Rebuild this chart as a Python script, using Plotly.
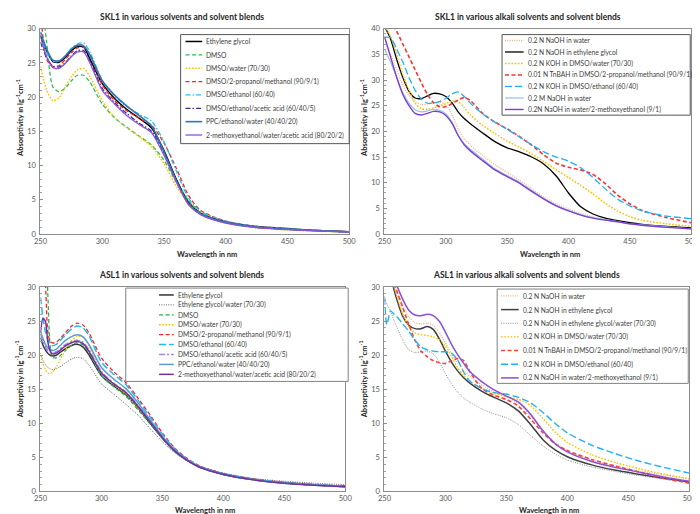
import plotly.graph_objects as go

# ---------------- DATA ----------------
# Panel 1: SKL1 in various solvents and solvent blends
W1 = [250, 255, 260, 265, 270, 275, 280, 285, 290, 300, 310, 320, 330, 340, 350, 360, 370, 380, 400, 425, 450, 475, 500]
skl1_eg = [29.0, 26.8, 25.2, 25.1, 25.8, 26.8, 27.4, 27.3, 25.6, 22.0, 19.8, 18.2, 16.9, 15.5, 12.2, 8.0, 4.6, 3.0, 1.8, 1.1, 0.8, 0.5, 0.35]
skl1_dmso = [36.0, 28.0, 21.5, 20.8, 21.3, 22.4, 23.2, 23.2, 22.2, 19.0, 17.0, 15.6, 14.3, 13.0, 10.8, 7.6, 4.9, 3.1, 1.7, 1.0, 0.7, 0.45, 0.3]
skl1_dmso_water = [24.5, 21.0, 19.5, 19.9, 21.5, 23.0, 24.0, 24.2, 23.0, 19.5, 17.0, 15.5, 14.2, 12.8, 10.3, 7.0, 4.5, 2.9, 1.6, 0.9, 0.6, 0.4, 0.3]
skl1_dmso_prop_meth = [33.0, 25.5, 24.5, 24.6, 25.5, 26.5, 27.2, 27.3, 26.2, 21.8, 19.5, 18.0, 16.9, 15.9, 13.3, 9.6, 5.6, 3.4, 1.9, 1.1, 0.75, 0.5, 0.35]
skl1_dmso_eth = [29.5, 26.5, 25.3, 25.2, 26.0, 27.1, 27.8, 27.9, 26.6, 22.5, 20.2, 18.6, 17.5, 16.5, 13.5, 9.2, 5.2, 3.3, 1.9, 1.1, 0.8, 0.5, 0.35]
skl1_dmso_eth_ac = [28.0, 25.8, 24.5, 24.4, 25.0, 26.0, 26.8, 26.8, 25.3, 21.3, 19.2, 17.6, 16.2, 15.0, 11.8, 7.8, 4.5, 2.9, 1.7, 1.0, 0.7, 0.5, 0.3]
skl1_ppc = [29.5, 27.0, 25.4, 25.3, 26.0, 27.0, 27.6, 27.5, 26.2, 22.4, 20.3, 18.7, 17.3, 15.8, 12.0, 7.8, 4.3, 2.9, 1.7, 1.0, 0.7, 0.5, 0.3]
skl1_meoet = [28.8, 25.9, 24.3, 24.2, 24.9, 25.9, 26.6, 26.6, 25.0, 21.0, 19.0, 17.3, 16.0, 14.8, 11.5, 7.6, 4.3, 2.8, 1.6, 0.95, 0.65, 0.45, 0.3]
names1 = ["Ethylene glycol", "DMSO", "DMSO/water (70/30)", "DMSO/2-propanol/methanol (90/9/1)",
          "DMSO/ethanol (60/40)", "DMSO/ethanol/acetic acid (60/40/5)", "PPC/ethanol/water (40/40/20)",
          "2-methoxyethanol/water/acetic acid (80/20/2)"]

# Panel 2: SKL1 in various alkali solvents and solvent blends
W2 = [250, 255, 260, 265, 270, 275, 280, 285, 290, 295, 300, 305, 310, 315, 320, 330, 340, 350, 360, 370, 380, 390, 400, 410, 420, 430, 440, 450, 460, 480, 500]
skl1a_naoh_w = [38.0, 35.0, 32.0, 29.0, 27.0, 25.8, 25.2, 25.3, 25.6, 25.7, 25.2, 23.3, 20.5, 18.6, 17.3, 15.3, 13.5, 12.0, 10.5, 8.8, 7.2, 5.9, 4.9, 4.0, 3.3, 2.8, 2.4, 2.1, 1.8, 1.4, 1.1]
skl1a_naoh_eg = [40.5, 38.0, 34.0, 30.5, 27.8, 26.5, 26.4, 26.9, 27.4, 27.3, 26.8, 25.6, 23.8, 22.5, 21.5, 19.7, 18.0, 16.8, 16.0, 15.0, 13.6, 11.3, 8.0, 5.3, 3.9, 3.1, 2.6, 2.2, 1.9, 1.5, 1.2]
skl1a_koh_dw = [40.5, 38.5, 35.0, 31.0, 28.0, 25.5, 24.4, 24.3, 24.6, 25.0, 25.4, 25.9, 25.8, 24.6, 23.2, 21.2, 19.6, 18.1, 16.9, 15.6, 14.1, 12.5, 11.0, 9.5, 7.8, 6.0, 4.5, 3.4, 2.7, 2.0, 1.5]
skl1a_tnbah = [44.0, 41.5, 39.5, 37.0, 34.5, 32.0, 29.5, 27.2, 25.6, 24.8, 24.8, 25.4, 26.1, 26.6, 26.0, 23.5, 21.8, 20.5, 19.0, 17.3, 15.4, 13.8, 13.0, 12.5, 11.6, 9.8, 7.6, 5.9, 4.6, 3.2, 2.2]
skl1a_koh_de = [38.3, 38.3, 36.0, 33.5, 30.5, 28.0, 26.3, 25.5, 25.5, 25.8, 26.4, 27.3, 27.7, 26.8, 25.5, 23.4, 21.8, 20.4, 18.9, 17.4, 16.0, 15.0, 14.2, 12.9, 11.0, 8.8, 6.8, 5.5, 4.5, 3.5, 3.0]
skl1a_naoh_m = [36.0, 33.5, 30.5, 27.5, 25.5, 24.2, 23.8, 24.0, 24.3, 24.1, 23.4, 21.8, 19.4, 17.6, 16.5, 14.6, 12.7, 11.4, 10.1, 8.5, 6.9, 5.6, 4.6, 3.8, 3.2, 2.8, 2.4, 2.0, 1.8, 1.4, 1.0]
skl1a_naoh_wme = [38.5, 34.5, 30.5, 27.2, 25.0, 23.5, 23.2, 23.5, 23.9, 23.8, 23.1, 21.6, 19.2, 17.4, 16.2, 14.3, 12.5, 11.2, 9.9, 8.3, 6.8, 5.5, 4.5, 3.7, 3.1, 2.7, 2.4, 2.0, 1.7, 1.3, 1.0]
names2 = ["0.2 N NaOH in water", "0.2 N NaOH in ethylene glycol", "0.2 N KOH in DMSO/water (70/30)",
          "0.01 N TnBAH in DMSO/2-propanol/methanol (90/9/1)", "0.2 N KOH in DMSO/ethanol (60/40)",
          "0.2 M NaOH in water", "0.2N NaOH in water/2-methoxyethanol (9/1)"]

# Panel 3: ASL1 in various solvents and solvent blends
W3 = [250, 252, 254, 256, 258, 260, 263, 266, 270, 275, 280, 285, 290, 300, 310, 320, 330, 340, 350, 360, 370, 380, 400, 425, 450, 475, 500]
asl1_eg = [22.6, 21.5, 20.8, 20.3, 20.0, 19.9, 20.0, 20.4, 20.9, 21.4, 21.6, 21.2, 20.0, 17.0, 15.5, 14.2, 12.3, 10.0, 7.8, 5.9, 4.6, 3.7, 2.6, 1.8, 1.3, 1.0, 0.8]
asl1_eg_w = [20.3, 19.3, 18.6, 18.2, 18.0, 17.9, 18.0, 18.3, 18.8, 19.4, 19.7, 19.5, 18.5, 15.8, 14.3, 12.8, 11.2, 9.2, 7.3, 5.7, 4.5, 3.7, 2.7, 1.9, 1.5, 1.2, 1.0]
asl1_dmso = [36.0, 36.0, 36.0, 29.0, 21.2, 19.7, 19.6, 19.9, 20.6, 21.4, 21.8, 21.5, 20.3, 17.0, 15.4, 14.0, 12.0, 9.9, 7.8, 5.9, 4.6, 3.6, 2.5, 1.7, 1.2, 0.9, 0.7]
asl1_dmso_w = [20.0, 18.8, 17.9, 17.4, 17.3, 17.5, 18.3, 19.3, 20.6, 22.0, 22.8, 22.6, 21.3, 17.5, 15.7, 14.3, 12.3, 10.2, 7.9, 6.0, 4.6, 3.6, 2.5, 1.7, 1.2, 0.9, 0.7]
asl1_dmso_pm = [38.0, 36.0, 31.0, 23.5, 22.0, 21.8, 21.9, 22.4, 23.2, 24.2, 24.7, 24.4, 23.2, 19.6, 17.6, 16.0, 13.7, 11.2, 8.6, 6.4, 4.9, 3.8, 2.6, 1.8, 1.3, 1.0, 0.75]
asl1_dmso_e = [28.5, 25.5, 23.5, 22.3, 21.6, 21.4, 21.6, 22.1, 22.9, 23.8, 24.3, 24.0, 22.8, 19.0, 17.2, 15.7, 13.4, 10.9, 8.4, 6.3, 4.8, 3.7, 2.6, 1.8, 1.3, 1.0, 0.75]
asl1_dmso_ea = [23.0, 22.0, 21.2, 20.7, 20.4, 20.3, 20.5, 20.9, 21.5, 22.0, 22.2, 21.9, 20.7, 17.6, 15.9, 14.6, 12.6, 10.3, 8.0, 6.0, 4.6, 3.6, 2.5, 1.7, 1.25, 0.95, 0.7]
asl1_ppc = [23.5, 22.5, 21.6, 21.1, 20.8, 20.7, 20.9, 21.4, 22.1, 22.7, 23.0, 22.7, 21.5, 18.2, 16.5, 15.1, 13.0, 10.5, 8.1, 6.1, 4.7, 3.7, 2.5, 1.7, 1.25, 0.95, 0.7]
asl1_meoet = [23.3, 25.4, 25.0, 22.0, 20.6, 20.2, 20.3, 20.7, 21.3, 21.8, 22.0, 21.7, 20.5, 17.4, 15.8, 14.5, 12.5, 10.2, 7.9, 6.0, 4.6, 3.6, 2.5, 1.7, 1.2, 0.9, 0.7]
names3 = ["Ethylene glycol", "Ethylene glycol/water (70/30)", "DMSO", "DMSO/water (70/30)",
          "DMSO/2-propanol/methanol (90/9/1)", "DMSO/ethanol (60/40)", "DMSO/ethanol/acetic acid (60/40/5)",
          "PPC/ethanol/water (40/40/20)", "2-methoxyethanol/water/acetic acid (80/20/2)"]

# Panel 4: ASL1 in various alkali solvents and solvent blends
W4 = [250, 252, 255, 258, 260, 265, 270, 275, 280, 285, 290, 295, 300, 305, 310, 315, 320, 330, 340, 350, 360, 370, 380, 390, 400, 420, 440, 460, 480, 500]
asl1a_naoh_w = [36.0, 35.0, 33.0, 30.5, 29.5, 27.3, 25.6, 24.8, 24.6, 24.7, 24.4, 23.3, 21.8, 20.2, 18.9, 17.8, 16.9, 15.6, 14.6, 13.9, 12.9, 11.1, 8.9, 7.2, 6.0, 4.6, 3.7, 3.0, 2.4, 1.8]
asl1a_naoh_eg = [36.0, 35.0, 32.0, 29.5, 28.3, 25.7, 24.4, 23.9, 23.9, 24.2, 23.8, 22.4, 20.6, 19.0, 17.7, 16.7, 15.9, 14.7, 13.8, 13.0, 11.8, 9.8, 7.6, 6.1, 5.1, 3.9, 3.1, 2.5, 1.9, 1.4]
asl1a_naoh_egw = [28.7, 27.5, 26.5, 25.0, 24.2, 22.2, 20.8, 20.4, 20.5, 20.6, 20.2, 19.0, 17.3, 15.8, 14.6, 13.7, 13.1, 12.1, 11.4, 10.8, 9.8, 8.2, 6.7, 5.5, 4.6, 3.6, 2.9, 2.3, 1.8, 1.3]
asl1a_koh_dw = [36.0, 35.0, 32.5, 30.0, 28.8, 26.0, 24.2, 23.3, 23.0, 22.9, 22.7, 22.3, 21.4, 19.8, 18.2, 17.0, 16.2, 15.1, 14.4, 13.9, 13.5, 12.6, 10.7, 8.7, 7.2, 5.4, 4.2, 3.3, 2.5, 1.9]
asl1a_tnbah = [36.0, 35.0, 33.0, 30.5, 29.5, 27.0, 24.5, 22.2, 20.6, 19.8, 19.2, 18.9, 18.8, 19.2, 19.5, 19.2, 17.6, 15.1, 14.1, 13.5, 12.5, 10.6, 8.6, 7.0, 6.0, 4.7, 3.7, 2.8, 1.9, 1.2]
asl1a_koh_de = [28.5, 24.5, 26.5, 26.0, 25.7, 24.6, 23.5, 22.2, 21.2, 20.8, 20.6, 20.5, 20.5, 20.3, 19.3, 17.5, 16.2, 15.1, 14.5, 14.3, 13.8, 13.0, 11.6, 10.0, 8.6, 6.8, 5.5, 4.4, 3.5, 2.7]
asl1a_naoh_wme = [36.0, 35.0, 33.5, 31.2, 30.3, 28.2, 26.6, 25.9, 25.8, 26.0, 25.8, 25.0, 23.4, 21.6, 20.1, 18.8, 17.6, 16.1, 14.9, 14.0, 13.1, 11.3, 8.9, 7.0, 5.8, 4.4, 3.5, 2.8, 2.1, 1.5]
names4 = ["0.2 N NaOH in water", "0.2 N NaOH in ethylene glycol", "0.2 N NaOH in ethylene glycol/water (70/30)",
          "0.2 N KOH in DMSO/water (70/30)", "0.01 N TnBAH in DMSO/2-propanol/methanol (90/9/1)",
          "0.2 N KOH in DMSO/ethanol (60/40)", "0.2 N NaOH in water/2-methoxyethanol (9/1)"]

titles = ["SKL1 in various solvents and solvent blends", "SKL1 in various alkali solvents and solvent blends",
          "ASL1 in various solvents and solvent blends", "ASL1 in various alkali solvents and solvent blends"]
x_ticks = [250, 300, 350, 400, 450, 500]

# ---------------- STYLES ----------------
DASH = "4px,2.5px"
DOT = "1.6px,1.6px"
FINEDOT = "1px,1.3px"
LONG = "7px,3px"
DASHDOT = "5px,2px,1.5px,2px"

styles1 = [("#000000", "solid", 1.5), ("#2DBE5A", DASH, 1.3), ("#FFC000", DOT, 1.5), ("#FF2020", DASH, 1.3),
           ("#22C0F0", DASHDOT, 1.3), ("#3D2A95", DASHDOT, 1.3), ("#2E75B6", "solid", 1.6), ("#8B55D6", "solid", 1.3)]
styles2 = [("#F4B183", FINEDOT, 1.3), ("#000000", "solid", 1.3), ("#FFC000", DOT, 1.5), ("#FF3030", DASH, 1.6),
           ("#22B0F0", LONG, 1.3), ("#9DC3E6", "solid", 1.3), ("#7E3FD0", "solid", 1.4)]
styles3 = [("#333333", "solid", 1.5), ("#606060", FINEDOT, 1.0), ("#22B24C", DASH, 1.3), ("#FFC000", DOT, 1.3),
           ("#FF2020", DASH, 1.3), ("#22B8F0", LONG, 1.5), ("#A784D8", "6px,2px,2px,2px", 1.6),
           ("#5B9BD5", "solid", 1.5), ("#7030A0", "solid", 1.5)]
styles4 = [("#F4B183", FINEDOT, 1.3), ("#404040", "solid", 1.5), ("#8C8C8C", FINEDOT, 1.0), ("#FFC000", DOT, 1.4),
           ("#FF4040", DASH, 1.6), ("#22B0F0", LONG, 1.4), ("#8A4FD8", "solid", 1.5)]

panels = [
    dict(W=W1, series=[skl1_eg, skl1_dmso, skl1_dmso_water, skl1_dmso_prop_meth, skl1_dmso_eth,
                       skl1_dmso_eth_ac, skl1_ppc, skl1_meoet], names=names1, styles=styles1,
         ymax=30, box=(26, 17, 341, 226), tcx=170, ycx=108, xty=247,
         leg=dict(box=(169, 23, 341, 134), y0=30, dy=13.6, sx=(174, 191), tx=193, bc="#555555")),
    dict(W=W2, series=[skl1a_naoh_w, skl1a_naoh_eg, skl1a_koh_dw, skl1a_tnbah, skl1a_koh_de,
                       skl1a_naoh_m, skl1a_naoh_wme], names=names2, styles=styles2,
         ymax=40, box=(377, 17, 690, 226), tcx=523, ycx=108, xty=247,
         leg=dict(box=(497, 23, 689, 105), y0=29, dy=11.7, sx=(500, 519), tx=521, bc="#555555")),
    dict(W=W3, series=[asl1_eg, asl1_eg_w, asl1_dmso, asl1_dmso_w, asl1_dmso_pm, asl1_dmso_e,
                       asl1_dmso_ea, asl1_ppc, asl1_meoet], names=names3, styles=styles3,
         ymax=30, box=(26, 280, 337, 488), tcx=170, ycx=374, xty=507,
         leg=dict(box=(113, 281, 340, 376), y0=288, dy=10.1, sx=(147, 162), tx=164, bc="#808080")),
    dict(W=W4, series=[asl1a_naoh_w, asl1a_naoh_eg, asl1a_naoh_egw, asl1a_koh_dw, asl1a_tnbah,
                       asl1a_koh_de, asl1a_naoh_wme], names=names4, styles=styles4,
         ymax=30, box=(377, 280, 688, 488), tcx=522, ycx=374, xty=507,
         leg=dict(box=(492, 282, 687, 378), y0=289, dy=13.9, sx=(496, 514), tx=516, bc="#808080")),
]

FW, FH = 700, 514
FONT = "Lato"


def px(x):
    return x / FW


def py(y):
    return 1 - y / FH


fig = go.Figure()
layout = dict(width=FW, height=FH, margin=dict(l=0, r=0, t=0, b=0), paper_bgcolor="white",
              plot_bgcolor="white", showlegend=False, font=dict(family=FONT, color="#595959"))
annotations = []
shapes = []

for i, p in enumerate(panels):
    k = "" if i == 0 else str(i + 1)
    xa, ya = "x" + k, "y" + k
    x0, y0, x1, y1 = p["box"]
    for vals, name, (col, dash, wd) in zip(p["series"], p["names"], p["styles"]):
        fig.add_trace(go.Scatter(x=p["W"], y=vals, name=name, mode="lines", xaxis=xa, yaxis=ya,
                                 line=dict(color=col, dash=dash, width=wd, shape="spline", smoothing=0.7),
                                 hoverinfo="x+y+name"))
    axcommon = dict(showline=True, linecolor="#8C8C8C", linewidth=1, mirror=True, showgrid=False,
                    zeroline=False, tickfont=dict(size=7.5, color="#595959", family=FONT))
    layout["xaxis" + k] = dict(axcommon, domain=[px(x0), px(x1)], range=[250, 500], tickvals=x_ticks,
                               anchor=ya, ticks="", ticklen=0)
    layout["yaxis" + k] = dict(axcommon, domain=[py(y1), py(y0)], range=[0, p["ymax"]], dtick=5,
                               anchor=xa, ticks="inside", ticklen=3, tickcolor="#8C8C8C",
                               ticklabelstandoff=2,
                               minor=dict(ticks="inside", ticklen=2, dtick=1, tickcolor="#A0A0A0"))
    # panel title
    annotations.append(dict(text="<b>" + titles[i] + "</b>", x=px(p["tcx"]), y=py(y0 - 12),
                            xref="paper", yref="paper", xanchor="center", yanchor="middle", showarrow=False,
                            font=dict(size=8.5, color="#262626", family=FONT)))
    # axis titles
    annotations.append(dict(text="<b>Wavelength in nm</b>", x=px((x0 + x1) / 2 + 12), y=py(p["xty"]),
                            xref="paper", yref="paper", xanchor="center", yanchor="middle", showarrow=False,
                            font=dict(size=7.5, color="#262626", family=FONT)))
    annotations.append(dict(text="<b>Absorptivity in lg<sup>-1</sup>cm<sup>-1</sup></b>", x=px(x0 - 21),
                            y=py(p["ycx"]), xref="paper", yref="paper", xanchor="center", yanchor="middle",
                            showarrow=False, textangle=-90,
                            font=dict(size=7.5, color="#262626", family=FONT)))
    # legend box
    lg = p["leg"]
    bx0, by0, bx1, by1 = lg["box"]
    shapes.append(dict(type="rect", xref="paper", yref="paper", x0=px(bx0), x1=px(bx1), y0=py(by1), y1=py(by0),
                       line=dict(color=lg["bc"], width=1), fillcolor="white", layer="above"))
    for j, (name, (col, dash, wd)) in enumerate(zip(p["names"], p["styles"])):
        yy = lg["y0"] + j * lg["dy"]
        shapes.append(dict(type="line", xref="paper", yref="paper", x0=px(lg["sx"][0]), x1=px(lg["sx"][1]),
                           y0=py(yy), y1=py(yy), line=dict(color=col, dash=dash, width=wd), layer="above"))
        annotations.append(dict(text=name, x=px(lg["tx"]), y=py(yy), xref="paper", yref="paper",
                                xanchor="left", yanchor="middle", showarrow=False,
                                font=dict(size=6.7, color="#404040", family=FONT)))

layout["annotations"] = annotations
layout["shapes"] = shapes
fig.update_layout(**layout)
fig.write_html("out.html")
